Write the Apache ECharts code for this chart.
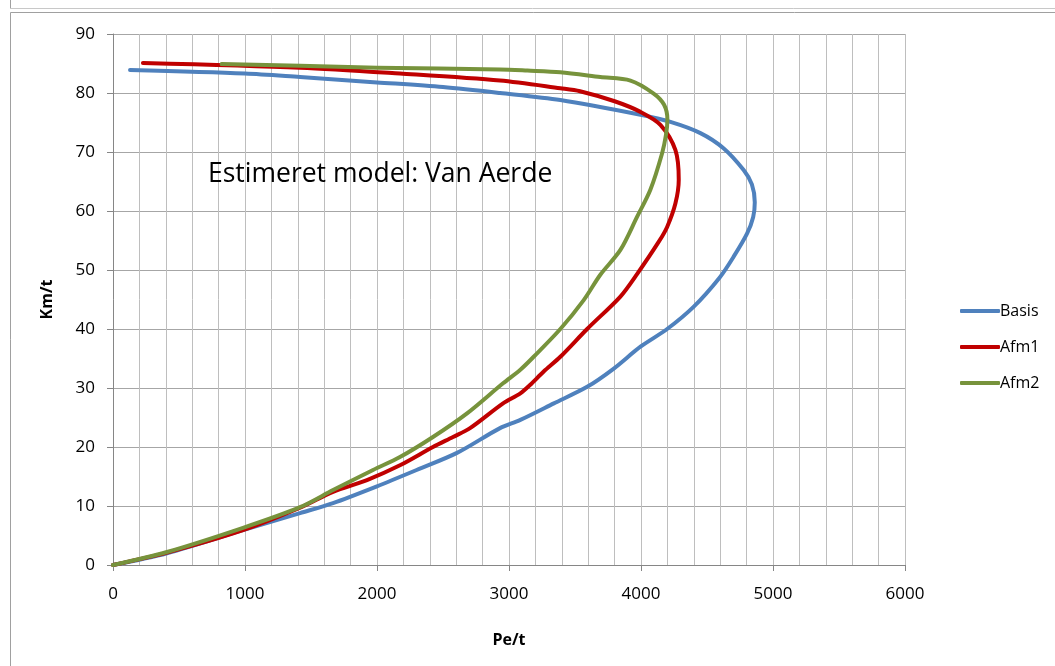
<!DOCTYPE html>
<html>
<head>
<meta charset="utf-8">
<script src="https://cdn.jsdelivr.net/npm/echarts@6/dist/echarts.min.js"></script>
<style>
html,body{margin:0;padding:0;background:#fff;}
#chart{width:1055px;height:666px;}
</style>
</head>
<body>
<div id="chart"></div>
<script>
var seriesNames = ['Basis', 'Afm1', 'Afm2'];
var xTicks = [0, 1000, 2000, 3000, 4000, 5000, 6000];
var yTicks = [0, 10, 20, 30, 40, 50, 60, 70, 80, 90];

var basisPe = [0, 409, 985, 1417, 1667, 1995, 2300, 2606, 2932, 3086, 3340, 3592, 3794, 3996, 4198, 4400, 4595, 4703, 4804, 4850, 4862, 4840, 4779, 4627, 4450, 4223, 3996, 3389, 2932, 2500, 2000, 1417, 1000, 129];
var basisKm = [0, 2.0, 5.9, 8.8, 10.5, 13.3, 16.1, 19.0, 23.2, 24.6, 27.4, 30.2, 33.3, 37.0, 40.0, 43.8, 48.7, 52.3, 56.2, 59.0, 61.5, 64.5, 66.9, 70.6, 73.2, 75.1, 76.3, 78.8, 80.0, 81.0, 81.8, 82.7, 83.3, 83.9];

var afm1Pe = [0, 409, 985, 1417, 1667, 1924, 2174, 2424, 2576, 2705, 2955, 3086, 3159, 3263, 3389, 3592, 3844, 3970, 4135, 4198, 4261, 4286, 4261, 4147, 3996, 3800, 3538, 3389, 2932, 2174, 1417, 227];
var afm1Km = [0, 2.1, 5.9, 9.7, 12.4, 14.4, 16.9, 20.0, 21.7, 23.2, 27.4, 29.1, 30.5, 32.8, 35.3, 40.0, 45.5, 49.3, 54.8, 57.3, 61.3, 65.3, 70.3, 74.6, 76.8, 78.6, 80.3, 80.8, 82.1, 83.3, 84.3, 85.1];

var afm2Pe = [0, 409, 985, 1417, 1667, 1970, 2174, 2424, 2682, 2955, 3086, 3187, 3389, 3566, 3692, 3844, 3970, 4071, 4160, 4190, 4200, 4175, 4096, 3920, 3692, 3389, 3139, 2932, 2000, 1417, 823];
var afm2Km = [0, 2.2, 6.3, 9.8, 12.7, 16.1, 18.3, 21.7, 25.7, 30.8, 33.1, 35.3, 40.0, 44.9, 49.2, 53.4, 59.0, 63.6, 69.8, 73.0, 75.5, 78.0, 79.9, 82.1, 82.7, 83.5, 83.8, 84.0, 84.3, 84.6, 84.9];

var annotationText = 'Estimeret model: Van Aerde';
var xName = 'Pe/t';
var yName = 'Km/t';

function zip(a, b) { return a.map(function (v, i) { return [v, b[i]]; }); }

var colors = ['#4F81BD', '#C00000', '#77933C'];
var font = 'Open Sans';

var chart = echarts.init(document.getElementById('chart'), null, {renderer: 'canvas'});
chart.setOption({
  animation: false,
  backgroundColor: '#fff',
  color: colors,
  textStyle: {fontFamily: font},
  grid: {left: 113, right: 150, top: 34, bottom: 101, containLabel: false},
  legend: {
    orient: 'vertical',
    left: 955,
    top: 298,
    icon: 'roundRect',
    itemWidth: 40,
    itemHeight: 4,
    itemGap: 20,
    textStyle: {fontFamily: font, fontSize: 16, color: '#000', lineHeight: 16, padding: [0, 0, 0, -5]},
    data: seriesNames
  },
  xAxis: {
    type: 'value',
    min: xTicks[0],
    max: xTicks[xTicks.length - 1],
    interval: 1000,
    name: xName,
    nameLocation: 'middle',
    nameGap: 67,
    nameTextStyle: {fontFamily: font, fontWeight: 'bold', fontSize: 16, color: '#000'},
    axisLine: {show: true, onZero: false, lineStyle: {color: '#868686', width: 1}},
    axisTick: {show: true, length: 6, inside: false, lineStyle: {color: '#868686'}},
    axisLabel: {fontFamily: font, fontSize: 17, color: '#000', margin: 21, formatter: function (v) { return String(v); }},
    splitLine: {show: true, lineStyle: {color: '#BEBEBE', width: 1}},
    minorTick: {show: false, splitNumber: 5},
    minorSplitLine: {show: true, lineStyle: {color: '#BEBEBE', width: 1}}
  },
  yAxis: {
    type: 'value',
    min: yTicks[0],
    max: yTicks[yTicks.length - 1],
    interval: 10,
    name: yName,
    nameLocation: 'middle',
    nameGap: 58,
    nameRotate: 90,
    nameTextStyle: {fontFamily: font, fontWeight: 'bold', fontSize: 16, color: '#000'},
    axisLine: {show: true, onZero: false, lineStyle: {color: '#868686', width: 1}},
    axisTick: {show: true, length: 6, inside: false, lineStyle: {color: '#868686'}},
    axisLabel: {fontFamily: font, fontSize: 17, color: '#000', margin: 18},
    splitLine: {show: true, lineStyle: {color: '#A6A6A6', width: 1}}
  },
  series: [
    {name: seriesNames[0], type: 'line', data: zip(basisPe, basisKm), showSymbol: false, symbol: 'none', smooth: 0.3, lineStyle: {width: 4, color: colors[0], cap: 'round', join: 'round'}, z: 3},
    {name: seriesNames[1], type: 'line', data: zip(afm1Pe, afm1Km), showSymbol: false, symbol: 'none', smooth: 0.3, lineStyle: {width: 4, color: colors[1], cap: 'round', join: 'round'}, z: 4},
    {name: seriesNames[2], type: 'line', data: zip(afm2Pe, afm2Km), showSymbol: false, symbol: 'none', smooth: 0.3, lineStyle: {width: 4, color: colors[2], cap: 'round', join: 'round'}, z: 5}
  ],
  graphic: [
    {type: 'line', shape: {x1: 10.5, y1: 0, x2: 10.5, y2: 8.5}, style: {stroke: '#A0A0A0', lineWidth: 1}, silent: true},
    {type: 'line', shape: {x1: 10, y1: 8.5, x2: 1055, y2: 8.5}, style: {stroke: '#C8C8C8', lineWidth: 1}, silent: true},
    {type: 'rect', shape: {x: 10.5, y: 12.5, width: 1100, height: 700}, style: {fill: 'none', stroke: '#A0A0A0', lineWidth: 1}, silent: true},
    {type: 'text', left: 208, top: 161, style: {text: annotationText, fontFamily: font, fontSize: 26.5, fill: '#000'}, silent: true, z: 10}
  ]
});
</script>
</body>
</html>
